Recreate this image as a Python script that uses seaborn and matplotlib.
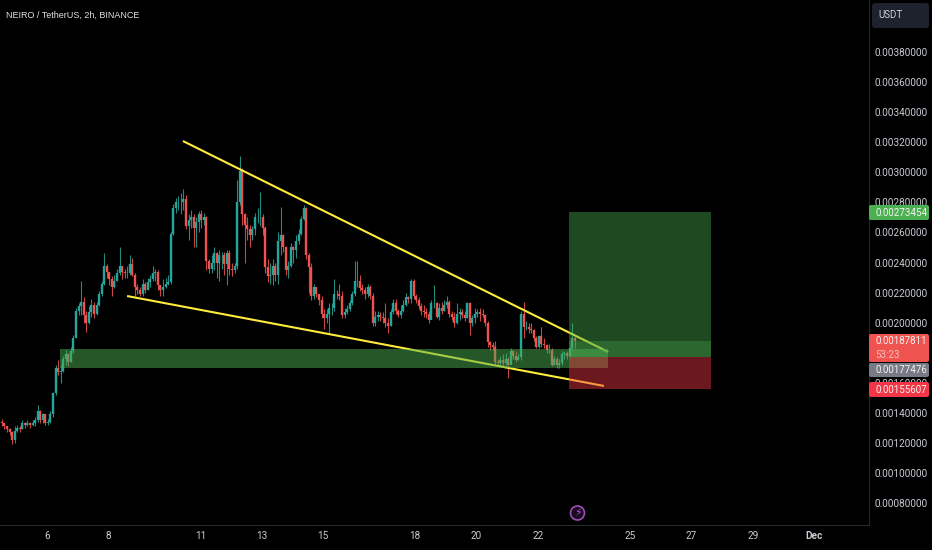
import numpy as np
import pandas as pd
import seaborn as sns
import matplotlib.pyplot as plt
from matplotlib.patches import FancyBboxPatch, Circle
from matplotlib.transforms import IdentityTransform

# prices are in 1e-5 USDT
first_open = 134
closes = [133,131,129,127,122,128,130,129,133,132,
          133,132,133,135,141,135,139,133,134,139,
          153,170,167,168,176,179,174,181,190,208,
          211,214,205,200,207,212,206,212,219,226,
          238,234,229,224,228,233,238,234,233,233,
          239,232,224,222,219,226,222,227,229,233,
          234,225,222,224,226,227,259,276,280,280,
          280,282,264,268,270,263,267,272,268,270,
          241,236,240,246,240,245,245,239,246,236,
          235,238,280,301,272,265,262,258,262,270,
          270,270,263,237,231,232,238,232,254,258,
          250,235,238,250,248,254,259,269,276,245,
          237,218,224,219,215,206,203,206,210,210,
          219,219,218,205,207,209,213,219,228,228,
          223,222,219,224,218,200,204,205,204,203,
          200,198,207,213,208,205,208,212,217,216,
          228,218,215,211,208,207,206,202,213,213,
          204,210,208,212,214,206,204,200,206,207,
          205,203,213,200,203,206,207,206,205,200,
          187,185,184,174,173,175,173,176,172,181,
          178,175,177,206,197,197,196,195,190,184,
          191,186,185,182,182,172,176,172,173,179,
          180,178,183,190,188]
highs = [136,133,131,130,128,131,132,131,135,134,
         135,134,135,137,145,142,140,139,136,141,
         154,172,175,172,178,182,180,184,192,210,
         213,228,217,208,211,216,214,214,221,228,
         246,239,233,231,232,236,250,238,236,238,
         245,243,233,226,224,229,227,230,232,238,
         236,235,225,229,230,232,260,279,283,284,
         286,289,285,272,275,272,270,274,275,273,
         271,242,245,250,247,248,247,247,248,248,
         240,240,295,311,303,273,270,265,264,273,
         276,287,272,264,242,240,242,240,260,277,
         259,251,241,253,251,258,262,271,278,277,
         246,240,226,224,219,218,209,209,213,213,
         229,222,226,221,210,212,215,221,241,241,
         232,226,224,226,225,220,208,208,207,207,
         213,203,209,216,216,209,212,215,220,218,
         229,229,219,217,213,212,210,208,215,225,
         214,213,214,215,218,215,208,207,213,210,
         209,208,214,214,205,210,209,210,209,206,
         201,188,187,188,176,178,179,180,177,183,
         182,181,179,208,214,201,200,200,196,191,
         192,197,190,186,186,183,178,177,176,181,
         181,181,184,200,191]
lows = [131,129,127,125,119,120,127,127,129,130,
        131,130,131,131,134,133,133,132,132,133,
        137,152,165,160,167,172,171,174,180,190,
        205,205,200,194,199,204,203,205,211,218,
        225,230,225,218,223,228,232,229,230,230,
        232,231,218,219,218,218,220,222,224,228,
        228,222,218,218,223,225,226,258,273,275,
        272,275,262,255,263,250,250,260,263,265,
        235,233,233,235,230,228,236,232,225,232,
        231,233,236,278,265,240,255,250,255,258,
        266,264,258,233,227,226,225,228,226,245,
        247,232,230,237,240,243,252,258,268,242,
        220,215,216,217,212,203,196,200,193,205,
        208,216,215,203,203,206,208,212,218,224,
        221,219,216,217,216,198,198,201,201,200,
        197,193,198,206,206,204,203,207,211,213,
        213,216,213,209,205,204,203,200,206,210,
        203,202,206,208,210,204,202,197,199,202,
        203,201,203,192,198,200,204,201,204,198,
        184,182,182,172,171,171,171,172,163,174,
        176,174,175,175,190,195,193,193,188,183,
        183,184,183,180,180,171,172,170,170,172,
        176,176,177,182,183]

price_ticks = [0.0008,0.0010,0.0012,0.0014,0.0016,0.0018,0.0020,0.0022,
               0.0024,0.0026,0.0028,0.0030,0.0032,0.0034,0.0036,0.0038]
day_ticks = [6,8,11,13,15,18,20,22,25,27,29,31]
day_labels = ['6','8','11','13','15','18','20','22','25','27','29','Dec']

# drawings: [day start, day end], [price start, price end]
upper_days, upper_prices = [10.43,24.29], [320.8,180.5]
lower_days, lower_prices = [8.61,24.15], [217.7,157.9]
zone_days, zone_low, zone_high = [6.42,24.29], 169.8, 182.5
pos_days = [23.01,27.64]
entry, target, stop, last = 177.476, 273.454, 155.607, 187.811

UP = '#26a69a'
DOWN = '#ef5350'
FG = '#c8cbd3'
LINEC = '#24272f'

sns.set_theme(style='dark')
plt.rcParams['font.family'] = ['Roboto', 'DejaVu Sans']
plt.rcParams['lines.solid_capstyle'] = 'butt'

days = 4.53 + np.arange(len(closes)) / 12
opens = [first_open] + closes[:-1]
candles = pd.DataFrame({'day':days,'open':opens,'high':highs,'low':lows,'close':closes})
candles['dir'] = np.where(candles['close']>=candles['open'],'up','down')
candles['id'] = candles.index
wicks = candles.melt(id_vars=['id','day','dir'],value_vars=['low','high'],value_name='price')
bodies = candles.melt(id_vars=['id','day','dir'],value_vars=['open','close'],value_name='price')

fig = plt.figure(figsize=(9.32,5.5),dpi=100,facecolor='black')
ax = fig.add_axes([0,1-525/550,869/932,525/550],facecolor='black')

pal = {'up':UP,'down':DOWN}
sns.lineplot(data=wicks,x='day',y='price',hue='dir',units='id',estimator=None,sort=False,
             palette=pal,linewidth=0.8,alpha=0.85,legend=False,ax=ax,zorder=2)
sns.lineplot(data=bodies,x='day',y='price',hue='dir',units='id',estimator=None,sort=False,
             palette=pal,linewidth=1.7,legend=False,ax=ax,zorder=2)

sns.lineplot(x=upper_days,y=upper_prices,color='#ffeb3b',linewidth=1.5,ax=ax,zorder=3)
sns.lineplot(x=lower_days,y=lower_prices,color='#ffeb3b',linewidth=1.5,ax=ax,zorder=3)

ax.fill_between(zone_days,zone_low,zone_high,color='#4caf50',alpha=0.5,lw=0,zorder=4)
ax.fill_between(pos_days,entry,target,color='#4caf50',alpha=0.42,lw=0,zorder=5)
ax.fill_between(pos_days,entry,last,color='#4caf50',alpha=0.3,lw=0,zorder=5)
ax.fill_between(pos_days,stop,entry,color='#f23645',alpha=0.45,lw=0,zorder=5)

ax.set_xlim(4.468,32.79)
ax.set_ylim(65.4,414.6)
ax.set_xlabel('')
ax.set_ylabel('')
ax.grid(False)
ax.yaxis.tick_right()
ax.set_yticks([p*1e5 for p in price_ticks])
ax.set_yticklabels([f'{p:.8f}' for p in price_ticks],color=FG,fontsize=7.2)
ax.set_xticks(day_ticks)
ax.set_xticklabels(day_labels,color=FG,fontsize=7.2)
ax.get_xticklabels()[-1].set_fontweight('bold')
ax.tick_params(axis='y',length=0,pad=4.2)
ax.tick_params(axis='x',length=0,pad=4.5)
for s in ['top','left']:
    ax.spines[s].set_visible(False)
for s in ['right','bottom']:
    ax.spines[s].set_color(LINEC)
    ax.spines[s].set_linewidth(0.8)

fig.text(5.5/932,1-15/550,'NEIRO / TetherUS, 2h, BINANCE',color='#e0e2e8',fontsize=6.5,
         family=['Liberation Sans','DejaVu Sans'],va='center')

def box(x,top,w,h,color,radius=2):
    # pixel box, y counted from the top of the picture
    p = FancyBboxPatch((x,550-top-h),w,h,boxstyle=f'round,pad=0,rounding_size={radius}',
                       fc=color,ec='none',transform=IdentityTransform(),zorder=2)
    fig.add_artist(p)

def label(y,text,color='#f4f4f4',x=875):
    fig.text(x/932,1-y/550,text,color=color,fontsize=7,va='center',zorder=3)

box(872,3,57,25,'#1e222d',3)
label(15.5,'USDT',color='#d1d4dc',x=878)
box(869,205,60,15,'#4caf50')
label(212.5,'0.00273454')
box(869,334,60,28,'#ef5350')
label(341,'0.00187811')
label(354.5,'53:23',color='#f8bcbc')
box(869,363,60,14,'#787b86')
label(370,'0.00177476')
box(869,382,60,15,'#f23645')
label(390,'0.00155607')

fig.add_artist(Circle((577.5,550-513),7,fc='#1a0a20',ec='#9c4fb8',lw=1.2,
                      transform=IdentityTransform(),zorder=2))
fig.text(577.5/932,1-513/550,'\u26a1',color='#b050d0',fontsize=8,ha='center',va='center',
         family='DejaVu Sans',zorder=3)

fig.savefig('out.png',dpi=100,facecolor='black')
